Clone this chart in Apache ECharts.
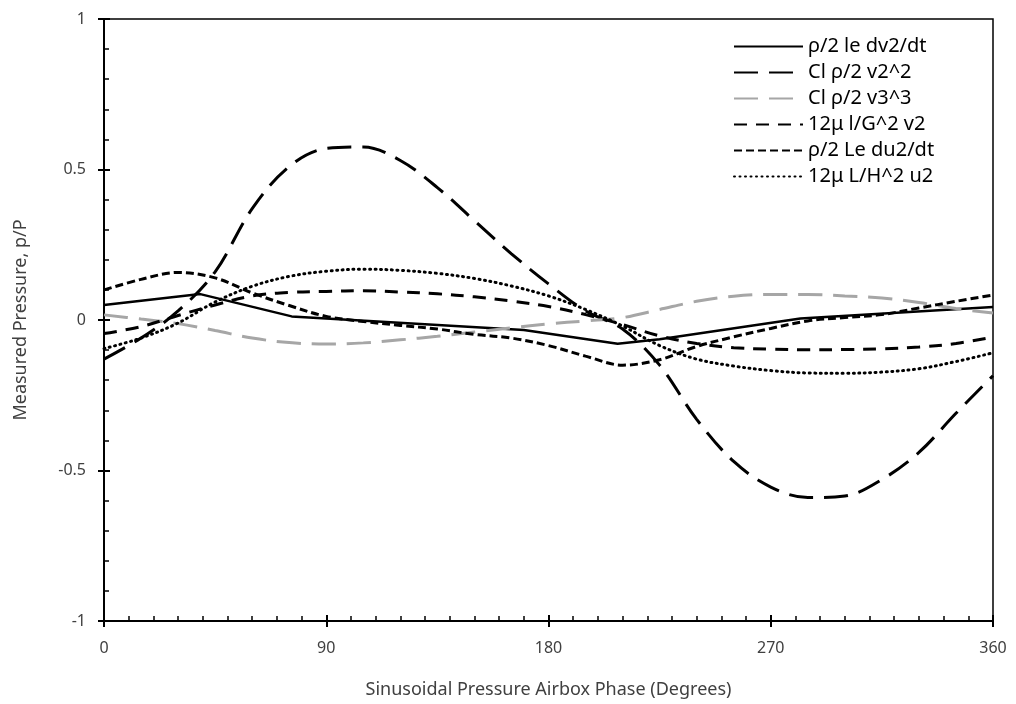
<!DOCTYPE html>
<html>
<head>
<meta charset="utf-8">
<script src="https://cdn.jsdelivr.net/npm/echarts@6/dist/echarts.min.js"></script>
<style>
  html, body { margin: 0; padding: 0; background: #ffffff; }
  #chart { width: 1016px; height: 704px; }
</style>
</head>
<body>
<div id="chart"></div>
<script>
// Phase grid (degrees) shared by the smooth curves
const phaseGrid = [0, 15, 30, 45, 60, 75, 90, 105, 120, 135, 150, 165, 180,
                   195, 210, 225, 240, 255, 270, 285, 300, 315, 330, 345, 360];

// ρ/2 le dv2/dt — straight segments between its own phase points
const solidPhase  = [0, 39, 76, 170, 208, 225, 282, 360];
const solidValues = [0.05, 0.086, 0.012, -0.033, -0.079, -0.064, 0.005, 0.043];

// Cl ρ/2 v2^2
const clV2Values = [-0.13, -0.06, 0.03, 0.16, 0.37, 0.51, 0.57, 0.575, 0.53, 0.44, 0.33, 0.22, 0.12,
                    0.03, -0.03, -0.15, -0.33, -0.47, -0.555, -0.59, -0.585, -0.53, -0.44, -0.31, -0.185];

// Cl ρ/2 v3^3
const clV3Values = [0.017, 0.003, -0.012, -0.035, -0.06, -0.075, -0.08, -0.076, -0.066, -0.054, -0.04, -0.026, -0.013,
                    -0.003, 0.008, 0.035, 0.062, 0.079, 0.085, 0.085, 0.08, 0.073, 0.058, 0.038, 0.023];

// 12μ l/G^2 v2
const viscGValues = [-0.045, -0.022, 0.015, 0.05, 0.08, 0.092, 0.095, 0.097, 0.093, 0.087, 0.077, 0.063, 0.045,
                     0.018, -0.015, -0.053, -0.078, -0.092, -0.097, -0.099, -0.098, -0.096, -0.09, -0.078, -0.057];

// ρ/2 Le du2/dt
const leDuValues = [0.1, 0.135, 0.158, 0.14, 0.09, 0.048, 0.012, -0.005, -0.018, -0.03, -0.048, -0.06, -0.085,
                    -0.12, -0.15, -0.132, -0.088, -0.056, -0.028, -0.003, 0.008, 0.018, 0.04, 0.062, 0.083];

// 12μ L/H^2 u2
const viscHValues = [-0.095, -0.06, -0.01, 0.06, 0.112, 0.145, 0.162, 0.169, 0.165, 0.155, 0.138, 0.113, 0.08,
                     0.035, -0.02, -0.085, -0.13, -0.153, -0.168, -0.176, -0.177, -0.173, -0.162, -0.138, -0.109];

const seriesNames = ['ρ/2 le dv2/dt', 'Cl ρ/2 v2^2', 'Cl ρ/2 v3^3', '12μ l/G^2 v2', 'ρ/2 Le du2/dt', '12μ L/H^2 u2'];

const xTicks = [0, 90, 180, 270, 360];
const yTicks = [-1, -0.5, 0, 0.5, 1];

const pairs = (xs, ys) => xs.map((x, i) => [x, ys[i]]);

const FONT = "'Noto Sans', 'Open Sans', sans-serif";
const TEXT = '#404040';

const chart = echarts.init(document.getElementById('chart'), null, { renderer: 'canvas' });

const lineSeries = (name, data, style, smooth) => ({
  name, type: 'line', data, smooth: smooth ? 0.35 : false,
  symbol: 'none', showSymbol: false, xAxisIndex: 0, yAxisIndex: 0,
  lineStyle: style, itemStyle: { color: style.color }, animation: false
});

chart.setOption({
  backgroundColor: '#ffffff',
  animation: false,
  textStyle: { fontFamily: FONT },
  // plot area frame (top and right edges)
  grid: { left: 104, right: 23, top: 19, bottom: 82, show: true,
          borderColor: '#000000', borderWidth: 1.5, backgroundColor: 'transparent' },
  legend: {
    orient: 'vertical', left: 733, top: 35, padding: 0,
    itemWidth: 69, itemHeight: 14, itemGap: 3,
    itemStyle: { opacity: 0 },
    textStyle: { fontFamily: FONT, fontSize: 20, color: '#000000', lineHeight: 23 },
    data: seriesNames
  },
  xAxis: [
    {
      type: 'value', min: 0, max: 360, interval: 90,
      name: 'Sinusoidal Pressure Airbox Phase (Degrees)', nameLocation: 'middle', nameGap: 60,
      nameTextStyle: { fontFamily: FONT, fontSize: 18, color: TEXT },
      axisLine: { show: true, onZero: false, lineStyle: { color: '#000', width: 2 } },
      axisTick: { show: true, inside: true, length: 6, lineStyle: { color: '#000', width: 2 } },
      minorTick: { show: true, splitNumber: 9, length: 5, lineStyle: { color: '#000', width: 1.5 } },
      axisLabel: { margin: 19, fontFamily: FONT, fontSize: 16, color: TEXT,
                   formatter: v => xTicks.includes(v) ? String(v) : '' },
      splitLine: { show: false }
    },
    {
      type: 'value', min: 0, max: 360, interval: 90, position: 'bottom',
      axisLine: { show: false, onZero: false },
      axisTick: { show: true, inside: false, length: 6, lineStyle: { color: '#000', width: 2 } },
      axisLabel: { show: false }, splitLine: { show: false }
    }
  ],
  yAxis: [
    {
      type: 'value', min: -1, max: 1, interval: 0.5,
      name: 'Measured Pressure, p/P', nameLocation: 'middle', nameGap: 74, nameRotate: 90,
      nameTextStyle: { fontFamily: FONT, fontSize: 18, color: TEXT },
      axisLine: { show: true, onZero: false, lineStyle: { color: '#000', width: 2 } },
      axisTick: { show: true, inside: true, length: 6, lineStyle: { color: '#000', width: 2 } },
      minorTick: { show: true, splitNumber: 5, length: 5, lineStyle: { color: '#000', width: 1.5 } },
      axisLabel: { margin: 18, fontFamily: FONT, fontSize: 16, color: TEXT,
                   formatter: v => yTicks.includes(v) ? String(v) : '' },
      splitLine: { show: false }
    },
    {
      type: 'value', min: -1, max: 1, interval: 0.5, position: 'left',
      axisLine: { show: false, onZero: false },
      axisTick: { show: true, inside: false, length: 6, lineStyle: { color: '#000', width: 2 } },
      axisLabel: { show: false }, splitLine: { show: false }
    }
  ],
  series: [
    lineSeries(seriesNames[0], pairs(solidPhase, solidValues),
      { color: '#000000', width: 2.5, type: 'solid' }, false),
    lineSeries(seriesNames[1], pairs(phaseGrid, clV2Values),
      { color: '#000000', width: 3, type: [24, 11] }, true),
    lineSeries(seriesNames[2], pairs(phaseGrid, clV3Values),
      { color: '#a6a6a6', width: 3, type: [24, 11] }, true),
    lineSeries(seriesNames[3], pairs(phaseGrid, viscGValues),
      { color: '#000000', width: 3, type: [13, 9] }, true),
    lineSeries(seriesNames[4], pairs(phaseGrid, leDuValues),
      { color: '#000000', width: 3, type: [8, 4] }, true),
    lineSeries(seriesNames[5], pairs(phaseGrid, viscHValues),
      { color: '#000000', width: 3, type: [1, 4.5], cap: 'round' }, true)
  ]
});
</script>
</body>
</html>
